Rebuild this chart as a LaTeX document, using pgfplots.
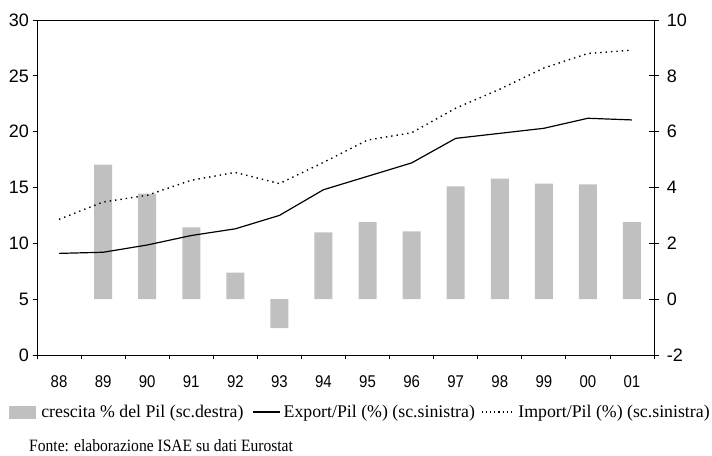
\documentclass[border=0pt]{standalone}
\usepackage{fontspec}
\setmainfont{Liberation Serif}
\newfontfamily\arialf{Liberation Sans}
\newfontfamily\arialnf[FakeStretch=0.88]{Liberation Sans}
\newfontfamily\srcf[FakeStretch=0.9]{Liberation Serif}
\usepackage{pgfplots}
\pgfplotsset{compat=1.18}
\usepackage{xcolor}
\definecolor{barcol}{RGB}{192,192,192}

\newcommand\ylab{\arialf\fontsize{18bp}{20bp}\selectfont}
\newcommand\xlab{\arialnf\fontsize{17bp}{19bp}\selectfont}
\newcommand\leg{\fontsize{17.8bp}{20bp}\selectfont}
\newcommand\src{\srcf\fontsize{17.3bp}{19bp}\selectfont}

\begin{document}
\begin{tikzpicture}
\useasboundingbox (0,0) rectangle (712bp,456bp);

% crescita % del Pil -- scala destra
\begin{axis}[
  at={(37bp,101bp)}, anchor=south west,
  scale only axis, width=617bp, height=335bp,
  xmin=-0.5, xmax=13.5, ymin=-2, ymax=10,
  hide x axis,
  axis y line*=right,
  ytick={-2,0,2,4,6,8,10},
  yticklabels={-2,0,2,4,6,8,10},
  tick align=center, major tick length=10.5bp,
  axis line style={line width=0.8bp, -},
  tick style={line width=0.8bp, black},
  yticklabel style={font=\ylab, xshift=4bp},
  ybar, bar width=18bp,
]
  \addplot[fill=barcol, draw=none]
    coordinates {(1,4.82) (2,3.78) (3,2.57) (4,0.95) (5,-1.04) (6,2.39) (7,2.76)
                 (8,2.43) (9,4.04) (10,4.32) (11,4.14) (12,4.11) (13,2.76)};
\end{axis}

% Export/Pil e Import/Pil -- scala sinistra
\begin{axis}[
  at={(37bp,101bp)}, anchor=south west,
  scale only axis, width=617bp, height=335bp,
  xmin=-0.5, xmax=13.5, ymin=0, ymax=30,
  xtick={-0.5,0.5,...,13.5},
  x tick label as interval,
  xticklabels={88,89,90,91,92,93,94,95,96,97,98,99,00,01},
  ytick={0,5,...,30},
  yticklabels={0,5,10,15,20,25,30},
  xtick pos=bottom, ytick pos=left,
  tick align=outside, major tick length=4.5bp,
  axis line style={line width=0.8bp},
  tick style={line width=0.8bp, black},
  yticklabel style={font=\ylab},
  xticklabel style={font=\xlab, yshift=-13bp},
  legend columns=3,
  legend style={at={(-0.0465,-0.170)}, anchor=west, draw=none, fill=none,
                inner sep=0pt, column sep=0pt, font=\leg,
                nodes={inner sep=0pt}},
]
  \addlegendimage{legend image code/.code={
      \fill[barcol] (0bp,-6bp) rectangle (26.7bp,6bp);
      \path (32.4bp,0bp);}}
  \addlegendentry{crescita \% del Pil (sc.destra)}

  \addplot[black, line width=1.2bp,
    legend image code/.code={
      \path (-9bp,0bp);
      \draw[black, line width=1.2bp] (0bp,0bp) -- (27bp,0bp);
      \path (30bp,0bp);}]
    coordinates {(0,9.1) (1,9.2) (2,9.85) (3,10.7) (4,11.3) (5,12.5) (6,14.8)
                 (7,16.0) (8,17.2) (9,19.4) (10,19.85) (11,20.3) (12,21.2) (13,21.05)};
  \addlegendentry{Export/Pil (\%) (sc.sinistra)}

  \addplot[black, line width=1.4bp, dash pattern=on 1.4bp off 4bp,
    legend image code/.code={
      \path (-6bp,0bp);
      \draw[black, line width=1.2bp, dash pattern=on 1.2bp off 3bp] (0bp,0bp) -- (32bp,0bp);
      \path (36bp,0bp);}]
    coordinates {(0,12.15) (1,13.7) (2,14.3) (3,15.65) (4,16.35) (5,15.35) (6,17.25)
                 (7,19.25) (8,19.9) (9,22.1) (10,23.8) (11,25.7) (12,27.0) (13,27.3)};
  \addlegendentry{Import/Pil (\%) (sc.sinistra)}
\end{axis}

\node[anchor=base west, inner sep=0pt, font=\src] at (29bp,4.5bp)
  {Fonte: elaborazione ISAE su dati Eurostat};
\end{tikzpicture}
\end{document}
